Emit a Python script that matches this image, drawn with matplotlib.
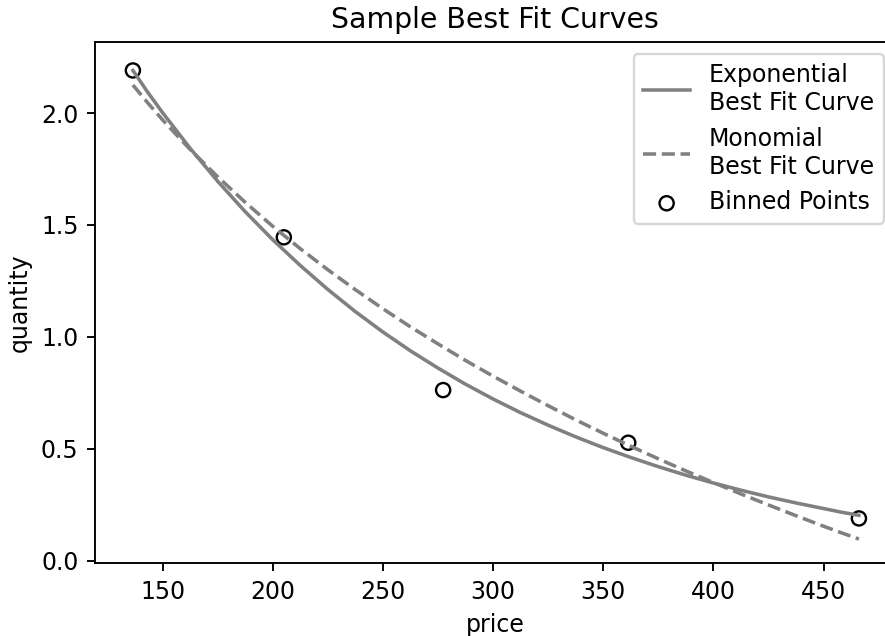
import matplotlib
matplotlib.use("Agg")
import matplotlib.pyplot as plt

# binned points
bin_price = [136.5, 205.0, 277.3, 361.3, 466.0]
bin_qty = [2.19, 1.445, 0.763, 0.528, 0.19]

curve_price = [136.5, 143, 150, 162.5, 175, 187.5, 200, 212.5, 225, 237.5, 250, 262.5,
               275, 287.5, 300, 312.5, 325, 337.5, 350, 362.5, 375, 387.5, 400,
               412.5, 425, 437.5, 450, 458, 466]
exp_qty = [2.19, 2.096, 2.001, 1.842, 1.695, 1.559, 1.434, 1.319, 1.212, 1.113, 1.022, 0.938,
           0.861, 0.789, 0.723, 0.662, 0.606, 0.554, 0.506, 0.462, 0.421, 0.383, 0.348,
           0.316, 0.286, 0.259, 0.234, 0.218, 0.204]
mono_qty = [2.125, 2.048, 1.969, 1.837, 1.715, 1.601, 1.494, 1.394, 1.300, 1.211, 1.126, 1.045,
            0.969, 0.895, 0.825, 0.758, 0.693, 0.630, 0.570, 0.512, 0.456, 0.402, 0.350,
            0.299, 0.250, 0.202, 0.155, 0.126, 0.098]

dpi = 170
fig = plt.figure(figsize=(885 / dpi, 636 / dpi), dpi=dpi)
ax = fig.add_axes([95 / 885, 73 / 636, 800.5 / 885, 521 / 636])

ax.plot(curve_price, exp_qty, color="gray", label="Exponential\nBest Fit Curve")
ax.plot(curve_price, mono_qty, color="gray", linestyle="--", label="Monomial\nBest Fit Curve")
ax.scatter(bin_price, bin_qty, facecolors="none", edgecolors="black", label="Binned Points")

ax.set_xlim(119.3, 482.6)
ax.set_ylim(-0.009, 2.317)
ax.spines["right"].set_visible(False)
ax.set_title("Sample Best Fit Curves")
ax.set_xlabel("price")
ax.set_ylabel("quantity")
ax.legend(loc="upper right")

fig.savefig("out.png", dpi=dpi)
